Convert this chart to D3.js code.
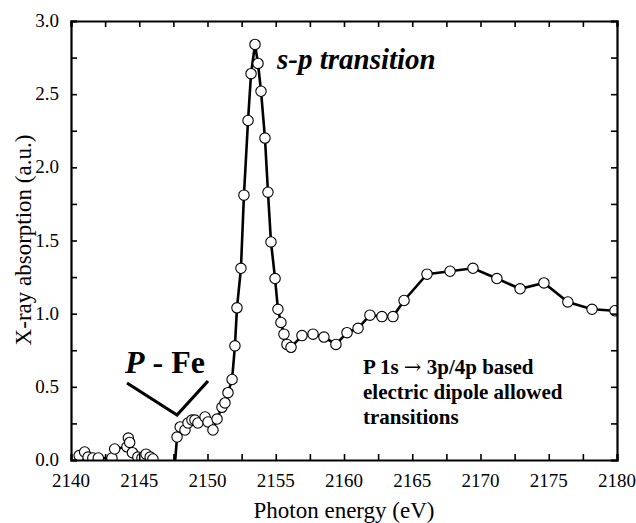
<!DOCTYPE html>
<html>
<head>
<meta charset="utf-8">
<script src="https://cdn.jsdelivr.net/npm/d3@7"></script>
<style>
  body { margin: 0; background: #fff; }
</style>
</head>
<body>
<script>
// photon energy (eV)
var energy = [
  2140.6, 2141.0, 2141.25, 2141.6, 2142.0, 2143.0, 2143.2, 2144.1, 2144.2, 2144.3,
  2144.5, 2144.9, 2145.2, 2145.5, 2145.8, 2146.0, 2147.55,
  2147.77, 2148.0, 2148.35, 2148.57, 2148.86, 2149.08, 2149.3, 2149.82, 2150.04,
  2150.4, 2150.7, 2151.06, 2151.28, 2151.5, 2151.8, 2152.01, 2152.16, 2152.45,
  2152.67, 2152.97, 2153.19, 2153.48, 2153.7, 2153.92, 2154.21, 2154.43, 2154.65,
  2154.95, 2155.16, 2155.38, 2155.6, 2155.82, 2156.12, 2156.92, 2157.73, 2158.53,
  2159.41, 2160.22, 2161.03, 2161.9, 2162.78, 2163.59, 2164.4, 2166.08, 2167.77,
  2169.45, 2171.2, 2172.9, 2174.65, 2176.4, 2178.17, 2179.85
];
// X-ray absorption (a.u.)
var absorption = [
  0.03, 0.055, 0.02, 0.014, 0.014, 0.014, 0.075, 0.09, 0.15, 0.12,
  0.05, 0.02, 0.014, 0.04, 0.02, 0.007, -0.1,
  0.157, 0.226, 0.205, 0.253, 0.273, 0.273, 0.253, 0.294, 0.26,
  0.205, 0.28, 0.36, 0.39, 0.46, 0.55, 0.78, 1.04, 1.31,
  1.81, 2.32, 2.64, 2.84, 2.71, 2.52, 2.20, 1.83, 1.49,
  1.24, 1.03, 0.94, 0.86, 0.79, 0.77, 0.85, 0.86, 0.84,
  0.79, 0.87, 0.90, 0.99, 0.98, 0.98, 1.09, 1.27, 1.29,
  1.31, 1.24, 1.17, 1.21, 1.08, 1.03, 1.02
];
var xTicks = [2140, 2145, 2150, 2155, 2160, 2165, 2170, 2175, 2180];
var yTicks = [0.0, 0.5, 1.0, 1.5, 2.0, 2.5, 3.0];

var W = 636, H = 523;
var m = { left: 71, right: 19, top: 21, bottom: 63 };
var serif = "'Liberation Serif', 'Times New Roman', Times, serif";

var svg = d3.select("body").append("svg")
    .attr("width", W)
    .attr("height", H)
    .attr("font-family", serif);

var x = d3.scaleLinear().domain([2140, 2180]).range([m.left, W - m.right]);
var y = d3.scaleLinear().domain([0, 3]).range([H - m.bottom, m.top]);

var data = energy.map(function(e, i) { return [e, absorption[i]]; });

svg.append("clipPath").attr("id", "clip")
  .append("rect")
    .attr("x", m.left).attr("y", m.top)
    .attr("width", x.range()[1] - m.left)
    .attr("height", y.range()[0] - m.top);

var plot = svg.append("g").attr("clip-path", "url(#clip)");

// linea
plot.append("path")
    .datum(data)
    .attr("fill", "none")
    .attr("stroke", "#000")
    .attr("stroke-width", 2.6)
    .attr("d", d3.line()
      .x(function(d) { return x(d[0]); })
      .y(function(d) { return y(d[1]); }));

// circulos
plot.selectAll("circle")
    .data(data)
    .enter()
    .append("circle")
    .attr("cx", function(d) { return x(d[0]); })
    .attr("cy", function(d) { return y(d[1]); })
    .attr("r", 5.2)
    .attr("fill", "#fff")
    .attr("stroke", "#000")
    .attr("stroke-width", 1.1);

// ejes (ticks hacia adentro, en los cuatro lados)
var tl = 6;
var xMinor = d3.range(2140, 2180.1, 2.5);
var yMinor = d3.range(0, 3.01, 0.25);

var gB = svg.append("g").attr("transform", "translate(0," + y(0) + ")")
    .call(d3.axisBottom(x).tickValues(xMinor).tickSize(-tl).tickFormat(""));
var gT = svg.append("g").attr("transform", "translate(0," + y(3) + ")")
    .call(d3.axisTop(x).tickValues(xMinor).tickSize(-tl).tickFormat(""));
var gL = svg.append("g").attr("transform", "translate(" + x(2140) + ",0)")
    .call(d3.axisLeft(y).tickValues(yMinor).tickSize(-tl).tickFormat(""));
var gR = svg.append("g").attr("transform", "translate(" + x(2180) + ",0)")
    .call(d3.axisRight(y).tickValues(yMinor).tickSize(-tl).tickFormat(""));

[gB, gT, gL, gR].forEach(function(g) {
  g.selectAll("path.domain").attr("stroke", "#000").attr("stroke-width", 2.2);
  g.selectAll(".tick line").attr("stroke", "#000").attr("stroke-width", 1.6);
});

// etiquetas de ticks
svg.selectAll("text.xt")
    .data(xTicks)
    .enter()
    .append("text")
    .attr("class", "xt")
    .attr("x", function(d) { return x(d); })
    .attr("y", y(0) + 27)
    .attr("text-anchor", "middle")
    .attr("font-size", "19px")
    .text(function(d) { return d; });

svg.selectAll("text.yt")
    .data(yTicks)
    .enter()
    .append("text")
    .attr("class", "yt")
    .attr("x", m.left - 12)
    .attr("y", function(d) { return y(d) + 6; })
    .attr("text-anchor", "end")
    .attr("font-size", "19px")
    .text(function(d) { return d.toFixed(1); });

// titulos de ejes
svg.append("text")
    .attr("x", (x(2140) + x(2180)) / 2)
    .attr("y", 518)
    .attr("text-anchor", "middle")
    .attr("font-size", "23px")
    .text("Photon energy (eV)");

svg.append("text")
    .attr("transform", "translate(31,240) rotate(-90)")
    .attr("text-anchor", "middle")
    .attr("font-size", "23px")
    .text("X-ray absorption (a.u.)");

// anotaciones
svg.append("text")
    .attr("x", 277)
    .attr("y", 69)
    .attr("font-size", "29px")
    .attr("font-weight", "bold")
    .attr("font-style", "italic")
    .text("s-p transition");

var pfe = svg.append("text")
    .attr("x", 125)
    .attr("y", 373)
    .attr("font-size", "32px")
    .attr("font-weight", "bold");
pfe.append("tspan").attr("font-style", "italic").text("P");
pfe.append("tspan").text(" - Fe");

svg.append("path")
    .attr("d", "M127,383 L177,415 L208,381")
    .attr("fill", "none")
    .attr("stroke", "#000")
    .attr("stroke-width", 3.2);

var note = [["P 1s ", "\u2192", " 3p/4p based"], ["electric dipole allowed"], ["transitions"]];
var noteText = svg.selectAll("text.note")
    .data(note)
    .enter()
    .append("text")
    .attr("class", "note")
    .attr("x", 363)
    .attr("y", function(d, i) { return 374 + i * 25; })
    .attr("font-size", "21px")
    .attr("font-weight", "bold");
noteText.selectAll("tspan")
    .data(function(d) { return d; })
    .enter()
    .append("tspan")
    .attr("font-family", function(d) { return d === "\u2192" ? "'DejaVu Serif', serif" : null; })
    .attr("font-weight", function(d) { return d === "\u2192" ? "normal" : null; })
    .text(function(d) { return d; });
</script>
</body>
</html>
